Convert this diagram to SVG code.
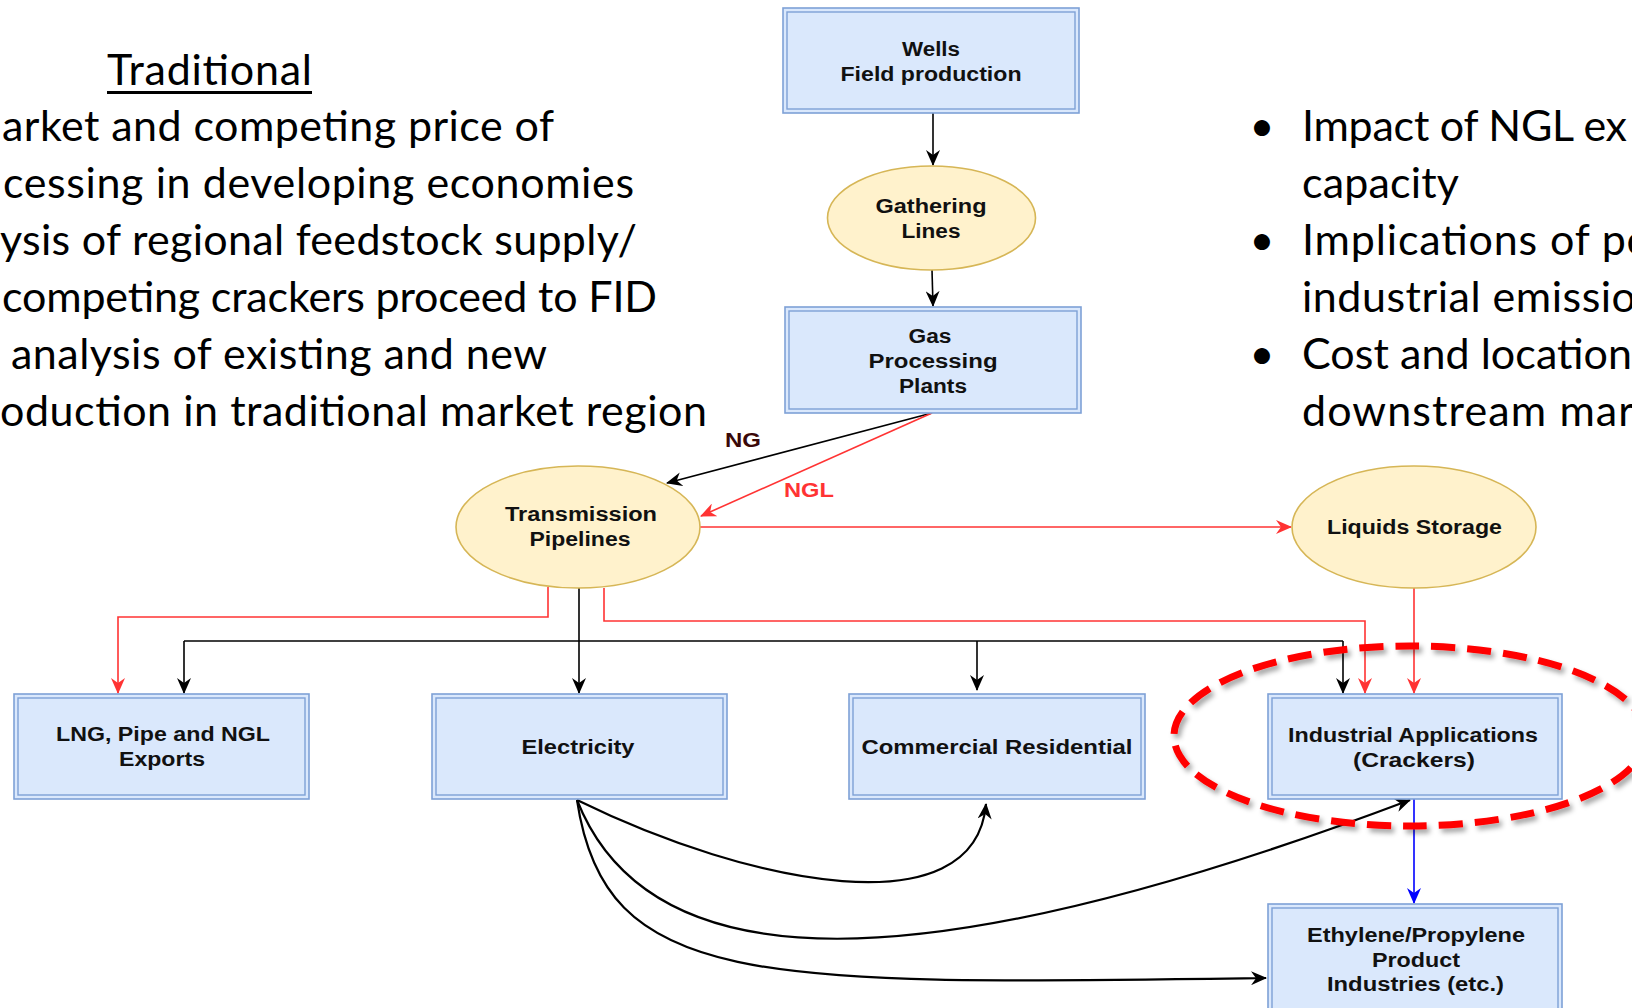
<svg xmlns="http://www.w3.org/2000/svg" width="1632" height="1008" viewBox="0 0 1632 1008">
  <style>
    .slide { font-family: Lato, "Open Sans", "Liberation Sans", sans-serif; font-size: 43px; fill: #000; }
    .lbl { font-family: "Liberation Sans", Arial, sans-serif; font-weight: bold; font-size: 20px; fill: #111; text-anchor: middle; }
    .box-out { fill: #DAE8FC; stroke: #7EA1D6; stroke-width: 1.6; }
    .box-in { fill: none; stroke: #7EA1D6; stroke-width: 1.4; }
    .oval { fill: #FFF2CC; stroke: #D6B656; stroke-width: 1.6; }
    .k { fill: none; stroke: #000; stroke-width: 1.6; }
    .kc { fill: none; stroke: #000; stroke-width: 2.2; }
    .r { fill: none; stroke: #FF3333; stroke-width: 1.6; }
    .b { fill: none; stroke: #0000FF; stroke-width: 1.6; }
  </style>
  <defs>
    <marker id="ah-k" viewBox="0 0 16 14" markerWidth="16" markerHeight="14" refX="15" refY="7" orient="auto" markerUnits="userSpaceOnUse">
      <path d="M0,0 L16,7 L0,14 L5,7 Z" fill="#000"/>
    </marker>
    <marker id="ah-r" viewBox="0 0 16 14" markerWidth="16" markerHeight="14" refX="15" refY="7" orient="auto" markerUnits="userSpaceOnUse">
      <path d="M0,0 L16,7 L0,14 L5,7 Z" fill="#FF3333"/>
    </marker>
    <marker id="ah-b" viewBox="0 0 16 14" markerWidth="16" markerHeight="14" refX="15" refY="7" orient="auto" markerUnits="userSpaceOnUse">
      <path d="M0,0 L16,7 L0,14 L5,7 Z" fill="#0000FF"/>
    </marker>
    <filter id="soft-shadow" x="-10%" y="-20%" width="130%" height="150%">
      <feGaussianBlur in="SourceAlpha" stdDeviation="2.5" result="blur"/>
      <feOffset in="blur" dx="3" dy="4" result="off"/>
      <feFlood flood-color="#000" flood-opacity="0.35"/>
      <feComposite in2="off" operator="in" result="shadow"/>
      <feMerge><feMergeNode in="shadow"/><feMergeNode in="SourceGraphic"/></feMerge>
    </filter>
  </defs>

  <rect width="1632" height="1008" fill="#fff"/>

  <!-- slide text, left column -->
  <g id="traditional-notes" class="slide">
    <text x="107" y="85" textLength="205">Traditional</text>
    <rect x="107" y="91" width="205" height="3" fill="#000"/>
    <text x="2" y="141" textLength="552">arket and competing price of</text>
    <text x="3" y="198" textLength="631">cessing in developing economies</text>
    <text x="0" y="255" textLength="637">ysis of regional feedstock supply/</text>
    <text x="2" y="312" textLength="655">competing crackers proceed to FID</text>
    <text x="11" y="369" textLength="536">analysis of existing and new</text>
    <text x="0" y="426" textLength="707">oduction in traditional market region</text>
  </g>

  <!-- slide text, right column -->
  <g id="impact-notes" class="slide">
    <text x="1262" y="141" text-anchor="middle">•</text>
    <text x="1262" y="255" text-anchor="middle">•</text>
    <text x="1262" y="369" text-anchor="middle">•</text>
    <text x="1302" y="141" textLength="325">Impact of NGL ex</text>
    <text x="1302" y="198" textLength="157">capacity</text>
    <text x="1302" y="255" textLength="349">Implications of po</text>
    <text x="1302" y="312" textLength="334">industrial emissio</text>
    <text x="1302" y="369" textLength="330">Cost and location</text>
    <text x="1302" y="426" textLength="332">downstream mar</text>
  </g>

  <!-- connectors -->
  <g id="connectors">
    <path class="k" d="M933,113 V165" marker-end="url(#ah-k)"/>
    <path class="k" d="M932,270 L933,306" marker-end="url(#ah-k)"/>
    <path class="k" d="M932,413 L667,483" marker-end="url(#ah-k)"/>
    <path class="r" d="M932,413 L701,516" marker-end="url(#ah-r)"/>
    <path class="r" d="M700,527 H1291" marker-end="url(#ah-r)"/>
    <path class="r" d="M548,587 V617 H118 V693" marker-end="url(#ah-r)"/>
    <path class="r" d="M604,588 V621 H1365 V693" marker-end="url(#ah-r)"/>
    <path class="k" d="M579,588 V693" marker-end="url(#ah-k)"/>
    <path class="k" d="M184,641 H1343"/>
    <path class="k" d="M184,641 V693" marker-end="url(#ah-k)"/>
    <path class="k" d="M977,641 V690" marker-end="url(#ah-k)"/>
    <path class="k" d="M1343,641 V693" marker-end="url(#ah-k)"/>
    <path class="r" d="M1414,588 V693" marker-end="url(#ah-r)"/>
    <path class="b" d="M1414,799 V903" marker-end="url(#ah-b)"/>
    <path class="kc" d="M577,800 C750,885 975,930 986,804" marker-end="url(#ah-k)"/>
    <path class="kc" d="M577,800 C650,985 920,985 1410,800" marker-end="url(#ah-k)"/>
    <path class="kc" d="M577,800 C605,990 760,985 1266,978" marker-end="url(#ah-k)"/>
    <text x="743" y="447" class="lbl" style="fill:#3a0808" textLength="36" lengthAdjust="spacingAndGlyphs">NG</text>
    <text x="809" y="497" class="lbl" style="fill:#FF3333" textLength="50" lengthAdjust="spacingAndGlyphs">NGL</text>
  </g>

  <g id="wells">
    <rect class="box-out" x="783" y="8" width="296" height="105"/>
    <rect class="box-in" x="787" y="12" width="288" height="97"/>
    <text class="lbl" x="931" y="56" textLength="58" lengthAdjust="spacingAndGlyphs">Wells</text>
    <text class="lbl" x="931" y="81" textLength="181" lengthAdjust="spacingAndGlyphs">Field production</text>
  </g>

  <g id="gathering-lines">
    <ellipse class="oval" cx="931.5" cy="218" rx="104" ry="52"/>
    <text class="lbl" x="931" y="213" textLength="111" lengthAdjust="spacingAndGlyphs">Gathering</text>
    <text class="lbl" x="931" y="238" textLength="59" lengthAdjust="spacingAndGlyphs">Lines</text>
  </g>

  <g id="gas-processing">
    <rect class="box-out" x="785" y="307" width="296" height="106"/>
    <rect class="box-in" x="789" y="311" width="288" height="98"/>
    <text class="lbl" x="930" y="343" textLength="43" lengthAdjust="spacingAndGlyphs">Gas</text>
    <text class="lbl" x="933" y="368" textLength="129" lengthAdjust="spacingAndGlyphs">Processing</text>
    <text class="lbl" x="933" y="393" textLength="68" lengthAdjust="spacingAndGlyphs">Plants</text>
  </g>

  <g id="transmission-pipelines">
    <ellipse class="oval" cx="578" cy="527" rx="122" ry="61"/>
    <text class="lbl" x="581" y="521" textLength="152" lengthAdjust="spacingAndGlyphs">Transmission</text>
    <text class="lbl" x="580" y="546" textLength="101" lengthAdjust="spacingAndGlyphs">Pipelines</text>
  </g>

  <g id="liquids-storage">
    <ellipse class="oval" cx="1414" cy="527" rx="122" ry="61"/>
    <text class="lbl" x="1414.5" y="534" textLength="175" lengthAdjust="spacingAndGlyphs">Liquids Storage</text>
  </g>

  <g id="exports">
    <rect class="box-out" x="14" y="694" width="295" height="105"/>
    <rect class="box-in" x="18" y="698" width="287" height="97"/>
    <text class="lbl" x="163" y="741" textLength="214" lengthAdjust="spacingAndGlyphs">LNG, Pipe and NGL</text>
    <text class="lbl" x="162" y="766" textLength="86" lengthAdjust="spacingAndGlyphs">Exports</text>
  </g>

  <g id="electricity">
    <rect class="box-out" x="432" y="694" width="295" height="105"/>
    <rect class="box-in" x="436" y="698" width="287" height="97"/>
    <text class="lbl" x="578" y="754" textLength="113" lengthAdjust="spacingAndGlyphs">Electricity</text>
  </g>

  <g id="commercial-residential">
    <rect class="box-out" x="849" y="694" width="296" height="105"/>
    <rect class="box-in" x="853" y="698" width="288" height="97"/>
    <text class="lbl" x="997" y="754" textLength="271" lengthAdjust="spacingAndGlyphs">Commercial Residential</text>
  </g>

  <g id="industrial-applications">
    <rect class="box-out" x="1268" y="694" width="294" height="105"/>
    <rect class="box-in" x="1272" y="698" width="286" height="97"/>
    <text class="lbl" x="1413" y="742" textLength="250" lengthAdjust="spacingAndGlyphs">Industrial Applications</text>
    <text class="lbl" x="1414" y="767" textLength="122" lengthAdjust="spacingAndGlyphs">(Crackers)</text>
  </g>

  <g id="ethylene-propylene">
    <rect class="box-out" x="1268" y="904" width="294" height="112"/>
    <rect class="box-in" x="1272" y="908" width="286" height="104"/>
    <text class="lbl" x="1416" y="942" textLength="218" lengthAdjust="spacingAndGlyphs">Ethylene/Propylene</text>
    <text class="lbl" x="1416" y="967" textLength="88" lengthAdjust="spacingAndGlyphs">Product</text>
    <text class="lbl" x="1415.5" y="991" textLength="177" lengthAdjust="spacingAndGlyphs">Industries (etc.)</text>
  </g>

  <!-- highlight ring around the crackers -->
  <g id="crackers-highlight">
    <ellipse cx="1410" cy="736" rx="236" ry="90" fill="none" stroke="#FF0000" stroke-width="7" stroke-dasharray="24 12" filter="url(#soft-shadow)"/>
  </g>
</svg>
